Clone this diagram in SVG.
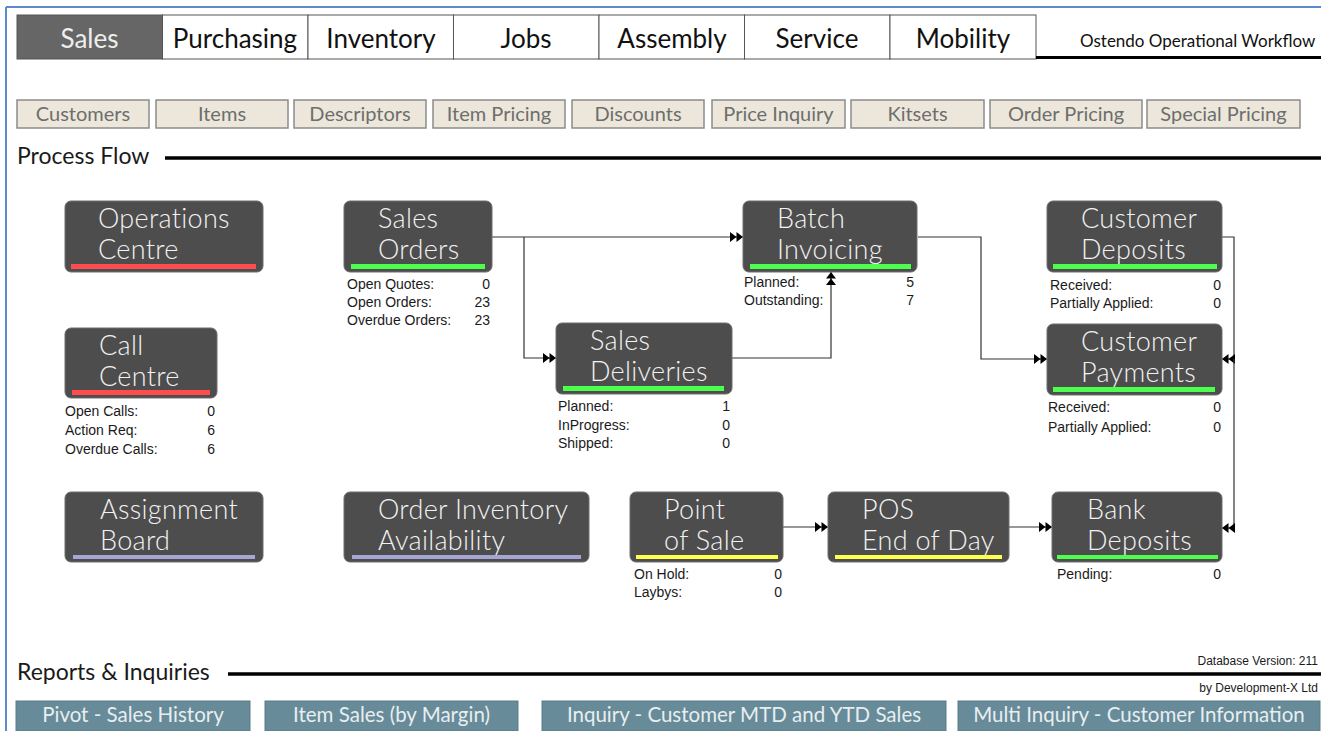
<svg xmlns="http://www.w3.org/2000/svg" width="1321" height="731" viewBox="0 0 1321 731">
<style>
.tab{fill:#ffffff;stroke:#555555;stroke-width:1}
.tabsel{fill:#666666;stroke:#555555;stroke-width:1}
.tabt{font-family:Lato,"DejaVu Sans",sans-serif;font-size:26px;fill:#111111;text-anchor:middle}
.sub{fill:#ECE7DA;stroke:#8C8C8C;stroke-width:1.5}
.subt{font-family:Lato,"DejaVu Sans",sans-serif;font-size:20px;fill:#6E6E6E;text-anchor:middle}
.sect{font-family:Lato,"DejaVu Sans",sans-serif;font-size:23px;fill:#1a1a1a}
.node{fill:#4D4D4D;stroke:#6E6E6E;stroke-width:1}
.nt{font-family:Lato,"DejaVu Sans",sans-serif;font-size:27px;font-weight:300;letter-spacing:0.3px;fill:#F2F2F2}
.st{font-family:"Liberation Sans",Arial,sans-serif;font-size:14px;fill:#1a1a1a}
.sv{font-family:"Liberation Sans",Arial,sans-serif;font-size:14px;fill:#1a1a1a;text-anchor:end}
.red{fill:#FF4D4D}
.grn{fill:#4DFF4D}
.yel{fill:#FFFF4D}
.lav{fill:#A6A6D4}
.btn{fill:#678B99;stroke:#5A7C89;stroke-width:1}
.btnt{font-family:Lato,"DejaVu Sans",sans-serif;font-size:20.5px;fill:#E8EEF0;text-anchor:middle}
.small{font-family:"Liberation Sans",Arial,sans-serif;font-size:12px;fill:#1a1a1a;text-anchor:end}
.conn{fill:none;stroke:#333333;stroke-width:1.2}
</style>
<defs>
<marker id="dbl" markerUnits="userSpaceOnUse" markerWidth="13" markerHeight="10" refX="13" refY="5" orient="auto" viewBox="0 0 13 10">
<path d="M0,0 L6.5,5 L0,10 Z M6.5,0 L13,5 L6.5,10 Z" fill="#000000"/>
</marker>
</defs>
<rect x="0" y="0" width="1321" height="731" fill="#ffffff"/>
<g id="frame">
<line x1="6" y1="7" x2="1321" y2="7" stroke="#5B8BCB" stroke-width="2"/>
<line x1="6" y1="7" x2="6" y2="731" stroke="#5B8BCB" stroke-width="2"/>
</g>
<g id="tabs">
<rect class="tabsel" x="17" y="15" width="145.5" height="44"/>
<text class="tabt" x="89.5" y="48" style="fill:#EEEEEE">Sales</text>
<rect class="tab" x="162.5" y="15" width="145.5" height="44"/>
<text class="tabt" x="235" y="48">Purchasing</text>
<rect class="tab" x="308" y="15" width="145.5" height="44"/>
<text class="tabt" x="381" y="48">Inventory</text>
<rect class="tab" x="453.5" y="15" width="145.5" height="44"/>
<text class="tabt" x="526" y="48">Jobs</text>
<rect class="tab" x="599" y="15" width="145.5" height="44"/>
<text class="tabt" x="672" y="48">Assembly</text>
<rect class="tab" x="744.5" y="15" width="145.5" height="44"/>
<text class="tabt" x="817" y="48">Service</text>
<rect class="tab" x="890" y="15" width="146" height="44"/>
<text class="tabt" x="963" y="48">Mobility</text>
<text x="1080" y="47" font-family="Lato,'DejaVu Sans',sans-serif" font-size="17" fill="#111111">Ostendo Operational Workflow</text>
<line x1="1036" y1="57.5" x2="1321" y2="57.5" stroke="#000000" stroke-width="3"/>
</g>
<g id="subtabs">
<rect class="sub" x="17" y="100" width="132" height="28"/>
<text class="subt" x="83" y="121">Customers</text>
<rect class="sub" x="156" y="100" width="132" height="28"/>
<text class="subt" x="222" y="121">Items</text>
<rect class="sub" x="294" y="100" width="132" height="28"/>
<text class="subt" x="360" y="121">Descriptors</text>
<rect class="sub" x="433" y="100" width="132" height="28"/>
<text class="subt" x="499" y="121">Item Pricing</text>
<rect class="sub" x="572" y="100" width="132" height="28"/>
<text class="subt" x="638" y="121">Discounts</text>
<rect class="sub" x="712" y="100" width="133" height="28"/>
<text class="subt" x="778.5" y="121">Price Inquiry</text>
<rect class="sub" x="851" y="100" width="133" height="28"/>
<text class="subt" x="917.5" y="121">Kitsets</text>
<rect class="sub" x="990" y="100" width="152" height="28"/>
<text class="subt" x="1066" y="121">Order Pricing</text>
<rect class="sub" x="1147" y="100" width="153" height="28"/>
<text class="subt" x="1223.5" y="121">Special Pricing</text>
</g>
<g id="section-process">
<text class="sect" x="17" y="164">Process Flow</text>
<line x1="165" y1="158" x2="1321" y2="158" stroke="#000000" stroke-width="3.5"/>
</g>
<g id="connectors">
<path class="conn" d="M492,237 H743" marker-end="url(#dbl)"/>
<path class="conn" d="M524,237 V358 H556" marker-end="url(#dbl)"/>
<path class="conn" d="M732,358 H831 V272" marker-end="url(#dbl)"/>
<path class="conn" d="M918,237 H981 V359 H1047" marker-end="url(#dbl)"/>
<path class="conn" d="M1222,237 H1234 V359 H1222" marker-end="url(#dbl)"/>
<path class="conn" d="M1234,359 V528 H1222" marker-end="url(#dbl)"/>
<path class="conn" d="M783,527 H828" marker-end="url(#dbl)"/>
<path class="conn" d="M1009,527 H1052" marker-end="url(#dbl)"/>
</g>
<g id="operations-centre">
<rect class="node" x="65" y="201" width="198" height="71" rx="6"/>
<rect class="red" x="71" y="264" width="185" height="5"/>
<text class="nt" x="98" y="228">Operations</text>
<text class="nt" x="98" y="259">Centre</text>
</g>
<g id="sales-orders">
<rect class="node" x="344" y="201" width="148" height="71" rx="6"/>
<rect class="grn" x="351" y="264" width="134" height="5"/>
<text class="nt" x="378" y="228">Sales</text>
<text class="nt" x="378" y="259">Orders</text>
<text class="st" x="347" y="289">Open Quotes:</text><text class="sv" x="490" y="289">0</text>
<text class="st" x="347" y="307">Open Orders:</text><text class="sv" x="490" y="307">23</text>
<text class="st" x="347" y="325">Overdue Orders:</text><text class="sv" x="490" y="325">23</text>
</g>
<g id="batch-invoicing">
<rect class="node" x="743" y="201" width="174" height="71" rx="6"/>
<rect class="grn" x="750" y="264" width="161" height="5"/>
<text class="nt" x="777" y="228">Batch</text>
<text class="nt" x="777" y="259">Invoicing</text>
<text class="st" x="744" y="287">Planned:</text><text class="sv" x="914" y="287">5</text>
<text class="st" x="744" y="305">Outstanding:</text><text class="sv" x="914" y="305">7</text>
</g>
<g id="customer-deposits">
<rect class="node" x="1047" y="201" width="175" height="71" rx="6"/>
<rect class="grn" x="1053" y="264" width="164" height="5"/>
<text class="nt" x="1081" y="228">Customer</text>
<text class="nt" x="1081" y="259">Deposits</text>
<text class="st" x="1050" y="290">Received:</text><text class="sv" x="1221" y="290">0</text>
<text class="st" x="1050" y="308">Partially Applied:</text><text class="sv" x="1221" y="308">0</text>
</g>
<g id="call-centre">
<rect class="node" x="65" y="328" width="152" height="70" rx="6"/>
<rect class="red" x="72" y="390" width="138" height="5"/>
<text class="nt" x="99" y="355">Call</text>
<text class="nt" x="99" y="386">Centre</text>
<text class="st" x="65" y="416">Open Calls:</text><text class="sv" x="215" y="416">0</text>
<text class="st" x="65" y="435">Action Req:</text><text class="sv" x="215" y="435">6</text>
<text class="st" x="65" y="454">Overdue Calls:</text><text class="sv" x="215" y="454">6</text>
</g>
<g id="sales-deliveries">
<rect class="node" x="556" y="323" width="176" height="71" rx="6"/>
<rect class="grn" x="563" y="386" width="161" height="5"/>
<text class="nt" x="590" y="350">Sales</text>
<text class="nt" x="590" y="381">Deliveries</text>
<text class="st" x="558" y="411">Planned:</text><text class="sv" x="730" y="411">1</text>
<text class="st" x="558" y="430">InProgress:</text><text class="sv" x="730" y="430">0</text>
<text class="st" x="558" y="448">Shipped:</text><text class="sv" x="730" y="448">0</text>
</g>
<g id="customer-payments">
<rect class="node" x="1047" y="324" width="175" height="71" rx="6"/>
<rect class="grn" x="1053" y="387" width="162" height="5"/>
<text class="nt" x="1081" y="351">Customer</text>
<text class="nt" x="1081" y="382">Payments</text>
<text class="st" x="1048" y="412">Received:</text><text class="sv" x="1221" y="412">0</text>
<text class="st" x="1048" y="432">Partially Applied:</text><text class="sv" x="1221" y="432">0</text>
</g>
<g id="assignment-board">
<rect class="node" x="65" y="492" width="198" height="70" rx="6"/>
<rect class="lav" x="73" y="555" width="182" height="4"/>
<text class="nt" x="100" y="519">Assignment</text>
<text class="nt" x="100" y="550">Board</text>
</g>
<g id="order-inventory-availability">
<rect class="node" x="344" y="492" width="245" height="70" rx="6"/>
<rect class="lav" x="352" y="555" width="229" height="4"/>
<text class="nt" x="378" y="519">Order Inventory</text>
<text class="nt" x="378" y="550">Availability</text>
</g>
<g id="point-of-sale">
<rect class="node" x="630" y="492" width="153" height="70" rx="6"/>
<rect class="yel" x="636" y="555" width="142" height="4"/>
<text class="nt" x="664" y="519">Point</text>
<text class="nt" x="664" y="550">of Sale</text>
<text class="st" x="634" y="579">On Hold:</text><text class="sv" x="782" y="579">0</text>
<text class="st" x="634" y="597">Laybys:</text><text class="sv" x="782" y="597">0</text>
</g>
<g id="pos-end-of-day">
<rect class="node" x="828" y="492" width="181" height="70" rx="6"/>
<rect class="yel" x="835" y="555" width="167" height="4"/>
<text class="nt" x="862" y="519">POS</text>
<text class="nt" x="862" y="550">End of Day</text>
</g>
<g id="bank-deposits">
<rect class="node" x="1052" y="492" width="170" height="70" rx="6"/>
<rect class="grn" x="1057" y="555" width="161" height="4"/>
<text class="nt" x="1087" y="519">Bank</text>
<text class="nt" x="1087" y="550">Deposits</text>
<text class="st" x="1057" y="579">Pending:</text><text class="sv" x="1221" y="579">0</text>
</g>
<g id="section-reports">
<text class="small" x="1318" y="665">Database Version: 211</text>
<text class="sect" x="17" y="680">Reports &amp; Inquiries</text>
<line x1="228" y1="674" x2="1321" y2="674" stroke="#000000" stroke-width="3.5"/>
<text class="small" x="1318" y="692">by Development-X Ltd</text>
</g>
<g id="report-buttons">
<rect class="btn" x="16" y="701" width="234" height="30"/>
<text class="btnt" x="133" y="722">Pivot - Sales History</text>
<rect class="btn" x="265" y="701" width="253" height="30"/>
<text class="btnt" x="391.5" y="722">Item Sales (by Margin)</text>
<rect class="btn" x="542" y="701" width="404" height="30"/>
<text class="btnt" x="744" y="722">Inquiry - Customer MTD and YTD Sales</text>
<rect class="btn" x="958" y="701" width="362" height="30"/>
<text class="btnt" x="1139" y="722">Multi Inquiry - Customer Information</text>
</g>
</svg>
